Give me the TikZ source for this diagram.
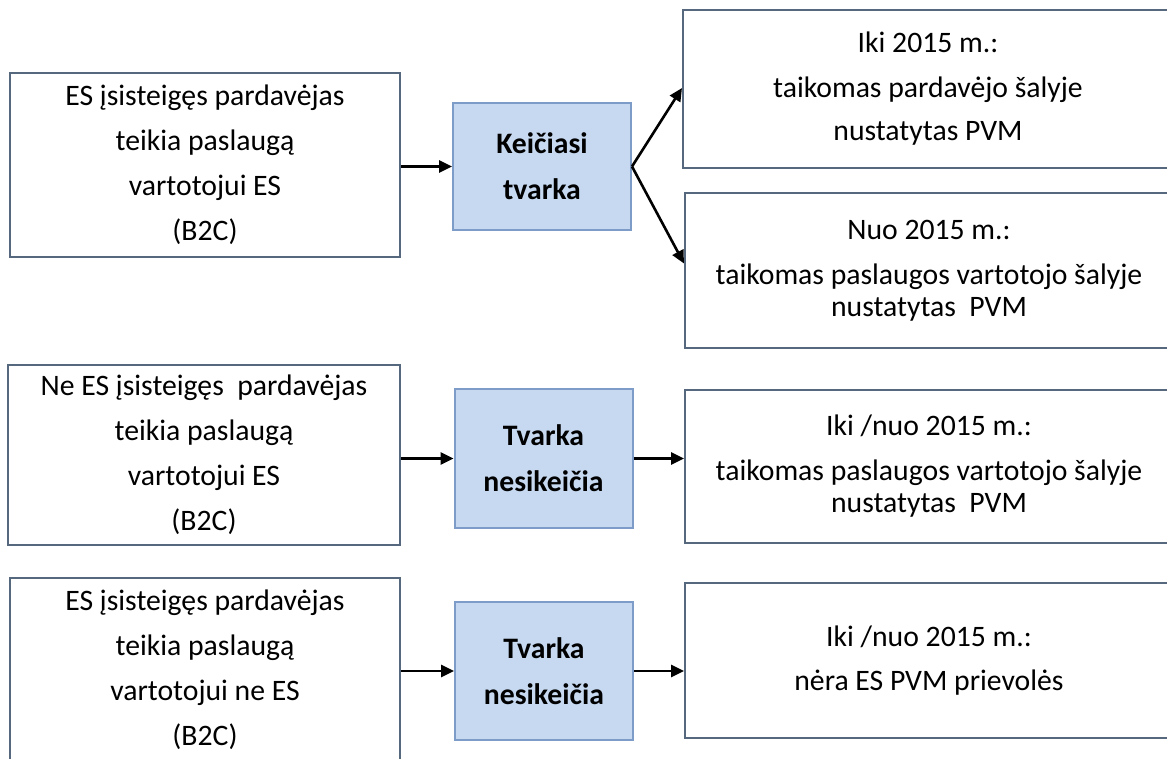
\documentclass[tikz,border=0pt]{standalone}
\usepackage{fontspec}
\setmainfont{Carlito}
\usetikzlibrary{arrows.meta,calc}
\definecolor{boxline}{HTML}{56687E}
\definecolor{kline}{HTML}{7E9CC8}
\definecolor{kfill}{HTML}{C6D9F1}
\tikzset{
  wbox/.style={draw=boxline, line width=2pt, fill=white, inner sep=0pt, align=center,
    font=\fontsize{29.7}{45}\selectfont, text=black},
  kbox/.style={draw=kline, line width=2pt, fill=kfill, inner sep=0pt, align=center,
    font=\fontsize{29.7}{46}\selectfont\bfseries, text=black,
    minimum width=178pt},
  arr/.style={line width=2.6pt, -{Triangle[length=13pt,width=12pt]}}
}
\begin{document}
\begin{tikzpicture}[x=1pt,y=-1pt]
\useasboundingbox (0,0) rectangle (1167,758);
\clip (0,0) rectangle (1167,758);
\fill[white] (0,0) rectangle (1167,758);
% left boxes
\node[wbox, minimum width=390pt, minimum height=184pt] (A1) at (205,165)
  {ES įsisteigęs pardavėjas\\teikia paslaugą\\vartotojui ES\\(B2C)};
\node[wbox, minimum width=392pt, minimum height=180pt] (A2) at (204,455)
  {Ne ES įsisteigęs\ \ pardavėjas\\teikia paslaugą\\vartotojui ES\\(B2C)};
\node[wbox, minimum width=390pt, minimum height=184pt] (A3) at (205,670)
  {ES įsisteigęs pardavėjas\\teikia paslaugą\\vartotojui ne ES\\(B2C)};
% middle boxes
\node[kbox, minimum height=127pt] (K1) at (542,166.5) {Keičiasi\\tvarka};
\node[kbox, minimum height=139pt] (K2) at (543.5,458.5) {Tvarka\\nesikeičia};
\node[kbox, minimum height=138pt] (K3) at (544,671) {Tvarka\\nesikeičia};
% right boxes
\node[wbox, minimum width=490pt, minimum height=158pt] (R1) at (928,89)
  {Iki 2015 m.:\\taikomas pardavėjo šalyje\\[-2pt]nustatytas PVM};
\node[wbox, minimum width=488pt, minimum height=155pt] (R2) at (929,270.5)
  {Nuo 2015 m.:\\taikomas paslaugos vartotojo šalyje\\[-13pt]nustatytas\ \ PVM};
\node[wbox, minimum width=488pt, minimum height=153pt] (R3) at (929,466.5)
  {Iki /nuo 2015 m.:\\taikomas paslaugos vartotojo šalyje\\[-13pt]nustatytas\ \ PVM};
\node[wbox, minimum width=488pt, minimum height=155pt] (R4) at (929,660.5)
  {Iki /nuo 2015 m.:\\[-1pt]nėra ES PVM prievolės};
% connectors
\draw[arr] (A1.east |- K1.west) -- (K1.west);
\draw[arr] (K1.east) -- ($(R1.west)+(0,-1)$);
\draw[arr] (K1.east) -- ($(R2.west)+(0,-7)$);
\draw[arr] (A2.east |- K2.west) -- (K2.west);
\draw[arr] (K2.east) -- (K2.east -| R3.west);
\draw[arr] (A3.east |- K3.west) -- (K3.west);
\draw[arr] (K3.east) -- (K3.east -| R4.west);
\end{tikzpicture}
\end{document}
